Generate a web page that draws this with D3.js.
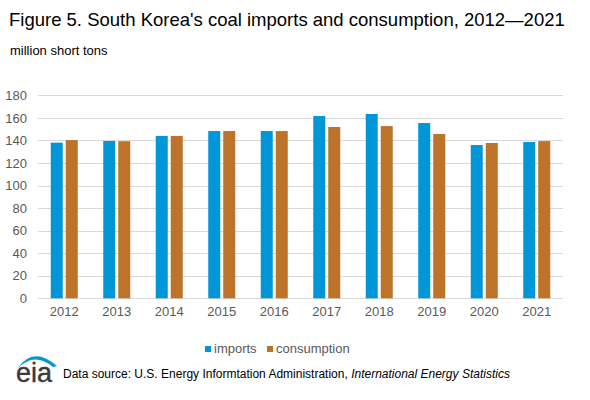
<!DOCTYPE html>
<html><head><meta charset="utf-8">
<script src="https://cdn.jsdelivr.net/npm/d3@7"></script>
<style>body{margin:0;background:#fff}svg{display:block;font-family:"Liberation Sans",Arial,sans-serif}</style>
</head><body>
<script>
const years = ["2012","2013","2014","2015","2016","2017","2018","2019","2020","2021"];
const imports = [138, 139.5, 144, 148.3, 148.3, 161.6, 163.4, 155.4, 135.9, 138.6];
const consumption = [140.3, 139.3, 144, 148.3, 148.3, 151.9, 152.7, 145.7, 137.7, 139.4];
const yTicks = [0,20,40,60,80,100,120,140,160,180];
const seriesNames = ["imports","consumption"];
const colors = ["#0096d7","#bd732a"];

const W=590,H=400;
const svg=d3.select("body").append("svg").attr("width",W).attr("height",H);
const m={l:38,r:27};
const x=d3.scaleBand().domain(years).range([m.l,W-m.r]).paddingInner(0).paddingOuter(0);
const y=d3.scaleLinear().domain([0,180]).range([298.3,95.3]);

svg.append("text").attr("x",9).attr("y",26).attr("font-size",18.5).attr("fill","#000")
  .text("Figure 5. South Korea's coal imports and consumption, 2012\u20142021");
svg.append("text").attr("x",10).attr("y",55).attr("font-size",13).attr("fill","#000").text("million short tons");

// grid
svg.append("g").selectAll("line").data(yTicks).join("line")
  .attr("x1",m.l).attr("x2",W-m.r).attr("y1",d=>Math.round(y(d))+0.5).attr("y2",d=>Math.round(y(d))+0.5)
  .attr("stroke","#d9d9d9").attr("stroke-width",1);

// y axis labels
const ya=svg.append("g").attr("transform",`translate(${m.l},0)`).call(d3.axisLeft(y).tickValues(yTicks).tickSize(0).tickPadding(11));
ya.select(".domain").remove();
ya.selectAll("text").attr("font-size",13).attr("fill","#595959").attr("font-family","Liberation Sans, Arial, sans-serif");

// x axis labels
const xa=svg.append("g").attr("transform",`translate(0,${y(0)})`).call(d3.axisBottom(x).tickSize(0).tickPadding(8));
xa.select(".domain").remove();
xa.selectAll("text").attr("font-size",13).attr("fill","#595959").attr("font-family","Liberation Sans, Arial, sans-serif");

const bw=12, gap=3;
const data=[imports,consumption];
data.forEach((vals,si)=>{
  svg.append("g").selectAll("rect").data(years).join("rect")
    .attr("x",(d,i)=>x(d)+x.bandwidth()/2 + (si===0 ? -gap/2-bw : gap/2))
    .attr("width",bw)
    .attr("y",(d,i)=>y(vals[i]))
    .attr("height",(d,i)=>y(0)-y(vals[i]))
    .attr("fill",colors[si]);
});

// legend
const lg=svg.append("g");
const lx=[205,267];
seriesNames.forEach((n,i)=>{
  lg.append("rect").attr("x",lx[i]).attr("y",346).attr("width",6).attr("height",6).attr("fill",colors[i]);
  lg.append("text").attr("x",lx[i]+9).attr("y",352.5).attr("font-size",13).attr("fill","#595959").text(n);
});

// eia logo
const logo=svg.append("g");
logo.append("path").attr("d","M17,369 Q33,345 57,366 L53,367 Q34,351 17,369 Z").attr("fill","#0096d7");
logo.append("text").attr("x",16).attr("y",382).attr("font-size",27).attr("fill","#3a3a3a")
  .attr("stroke","#3a3a3a").attr("stroke-width",0.4)
  .attr("font-family","Liberation Sans, Arial, sans-serif").text("eia");

const ft=svg.append("text").attr("x",63).attr("y",378).attr("font-size",12).attr("fill","#000");
ft.append("tspan").text("Data source: U.S. Energy Informtation Administration, ");
ft.append("tspan").attr("font-style","italic").text("International Energy Statistics");
</script>
</body></html>
